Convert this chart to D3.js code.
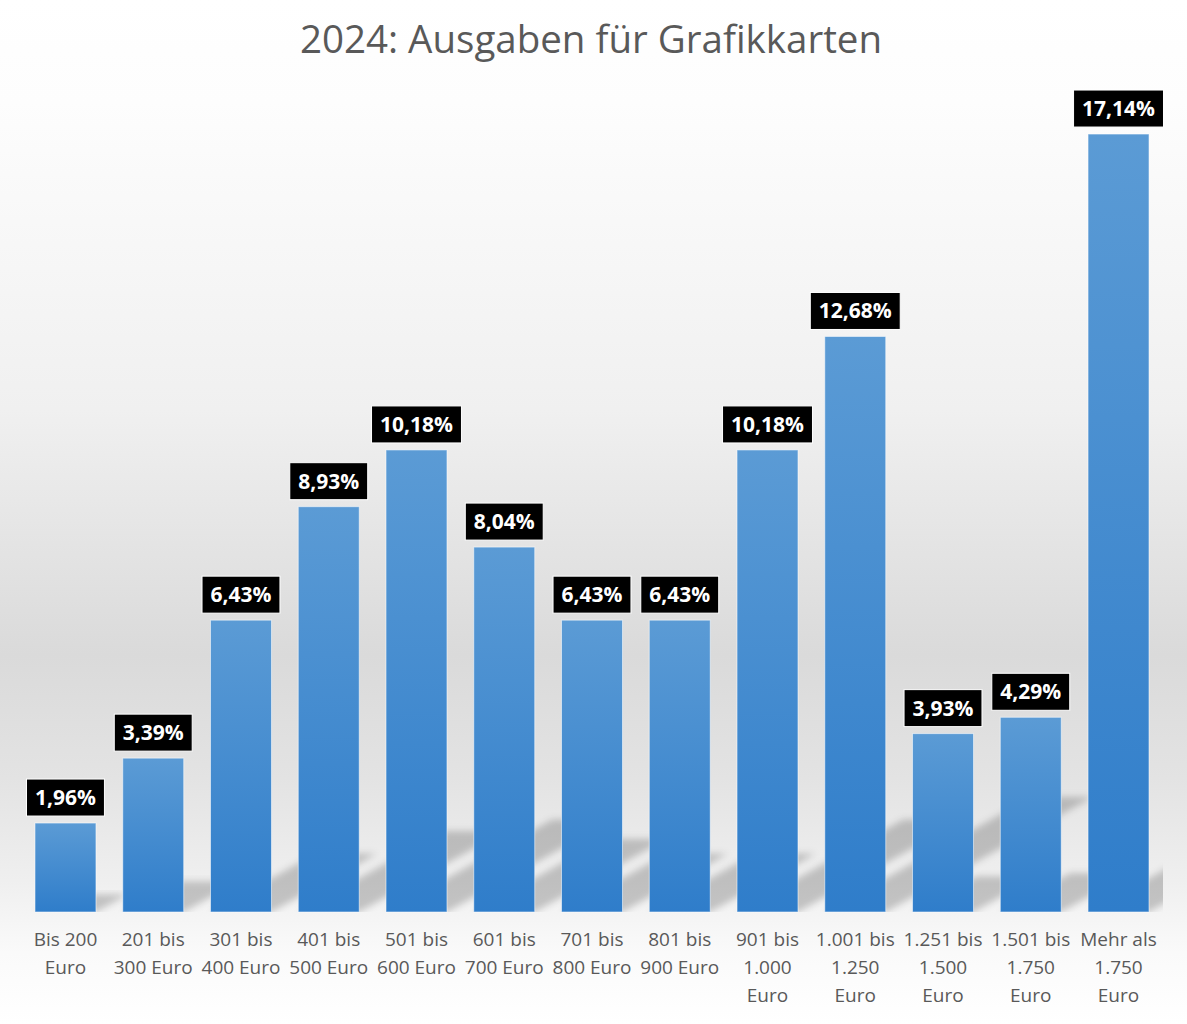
<!DOCTYPE html>
<html>
    <head>
        <meta charset="utf-8">
        <title>2024: Ausgaben für Grafikkarten</title>
        <style>
         body { margin: 0; background: #fff; }
         svg { display: block; font-family: "Open Sans", "Noto Sans", sans-serif; }
        </style>
    </head>

    <body>
        <div id="chart"></div>

        <script src="https://d3js.org/d3.v7.min.js"></script>
        <script>
         // data
         var title = "2024: Ausgaben für Grafikkarten"
         var categories = [
             "Bis 200\nEuro", "201 bis\n300 Euro", "301 bis\n400 Euro", "401 bis\n500 Euro",
             "501 bis\n600 Euro", "601 bis\n700 Euro", "701 bis\n800 Euro", "801 bis\n900 Euro",
             "901 bis\n1.000\nEuro", "1.001 bis\n1.250\nEuro", "1.251 bis\n1.500\nEuro",
             "1.501 bis\n1.750\nEuro", "Mehr als\n1.750\nEuro"
         ]
         var values = [1.96, 3.39, 6.43, 8.93, 10.18, 8.04, 6.43, 6.43, 10.18, 12.68, 3.93, 4.29, 17.14]
         var yMax = 18

         var width = 1187, height = 1024
         var base = 912

         var svg = d3.select("#chart").append("svg")
                     .attr("width", width)
                     .attr("height", height)

         var defs = svg.append("defs")

         // background: white, grey band low down, white again under the labels
         var bg = defs.append("linearGradient")
                      .attr("id", "bg").attr("x1", 0).attr("y1", 0).attr("x2", 0).attr("y2", 1)
         ;[[0, "#ffffff"], [0.1, "#fdfdfd"], [0.4, "#f0f0f0"], [0.64, "#dadada"],
           [0.76, "#e3e3e3"], [0.86, "#efefef"], [0.93, "#fafafa"], [1, "#ffffff"]]
             .forEach(function(s){
                 bg.append("stop").attr("offset", s[0]).attr("stop-color", s[1])
             })

         var barGrad = defs.append("linearGradient")
                           .attr("id", "barGrad").attr("x1", 0).attr("y1", 0).attr("x2", 0).attr("y2", 1)
         barGrad.append("stop").attr("offset", 0).attr("stop-color", "#5b9bd5")
         barGrad.append("stop").attr("offset", 1).attr("stop-color", "#2f7dca")

         defs.append("filter").attr("id", "blur")
             .attr("x", "-20%").attr("y", "-20%").attr("width", "140%").attr("height", "140%")
             .append("feGaussianBlur").attr("stdDeviation", 3.5)

         defs.append("clipPath").attr("id", "plotClip")
             .append("rect").attr("x", 21).attr("y", 0).attr("width", 1142).attr("height", base)

         svg.append("rect")
            .attr("width", width).attr("height", height)
            .attr("fill", "url(#bg)")

         var x = d3.scaleBand()
                   .domain(categories)
                   .range([21.6, 1162.4])
                   .paddingInner(0.305)
                   .paddingOuter(0.1525)

         var y = d3.scaleLinear()
                   .domain([0, yMax])
                   .range([base, 95])

         var data = categories.map(function(c, i){ return {cat: c, value: values[i]} })

         // perspective shadows leaning up and to the right
         var slant = 1.8, squash = 0.2
         svg.append("g")
            .attr("clip-path", "url(#plotClip)")
            .selectAll("path")
            .data(data)
            .enter().append("path")
            .attr("d", function(d){
                var x0 = x(d.cat), x1 = x0 + x.bandwidth()
                var sh = (base - y(d.value)) * squash
                return "M" + x0 + "," + base + "L" + x1 + "," + base +
                       "L" + (x1 + slant * sh) + "," + (base - sh) +
                       "L" + (x0 + slant * sh) + "," + (base - sh) + "Z"
            })
            .attr("fill", "#000")
            .attr("fill-opacity", 0.2)
            .attr("filter", "url(#blur)")

         svg.append("g")
            .selectAll("rect")
            .data(data)
            .enter().append("rect")
            .attr("x", function(d){ return x(d.cat) })
            .attr("y", function(d){ return y(d.value) })
            .attr("width", x.bandwidth())
            .attr("height", function(d){ return base - y(d.value) })
            .attr("fill", "url(#barGrad)")
            .attr("stroke", "rgba(255,255,255,0.55)")
            .attr("stroke-width", 1)

         // value labels in black boxes
         var fmt = function(v){ return d3.format(".2f")(v).replace(".", ",") + "%" }
         var labels = svg.append("g")
                         .selectAll("g")
                         .data(data)
                         .enter().append("g")
                         .attr("transform", function(d){
                             return "translate(" + (x(d.cat) + x.bandwidth() / 2) + "," + (y(d.value) - 7) + ")"
                         })
         var boxes = labels.append("rect")
                           .attr("fill", "#000")
                           .attr("stroke", "#fff")
                           .attr("stroke-width", 1)
         var texts = labels.append("text")
                           .attr("text-anchor", "middle")
                           .attr("y", -11)
                           .attr("fill", "#fff")
                           .attr("font-weight", "bold")
                           .attr("font-size", 21)
                           .text(function(d){ return fmt(d.value) })
         texts.each(function(d){
             d.tw = this.getComputedTextLength()
         })
         boxes.attr("x", function(d){ return -d.tw / 2 - 8.5 })
              .attr("y", -37)
              .attr("width", function(d){ return d.tw + 17 })
              .attr("height", 37)

         // category labels under the bars
         var cats = svg.append("g")
                       .selectAll("text")
                       .data(categories)
                       .enter().append("text")
                       .attr("text-anchor", "middle")
                       .attr("fill", "#595959")
                       .attr("font-size", 19)
                       .attr("x", function(d){ return x(d) + x.bandwidth() / 2 })
                       .attr("y", 946)
         cats.selectAll("tspan")
             .data(function(d){ return d.split("\n") })
             .enter().append("tspan")
             .attr("x", function(){ return d3.select(this.parentNode).attr("x") })
             .attr("dy", function(d, i){ return i ? 27.8 : 0 })
             .text(function(d){ return d })

         svg.append("text")
            .attr("x", 591)
            .attr("y", 53)
            .attr("text-anchor", "middle")
            .attr("fill", "#595959")
            .attr("font-size", 38.5)
            .text(title)
        </script>
    </body>

</html>
